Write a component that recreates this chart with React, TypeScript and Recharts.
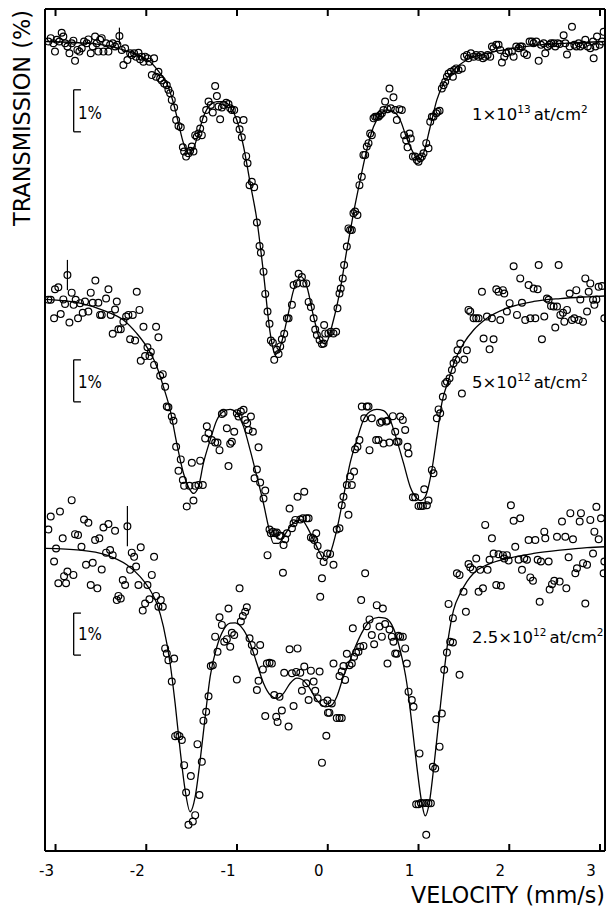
import React from 'react';
import { ComposedChart, Line, Scatter, XAxis, YAxis, ErrorBar, ReferenceLine } from 'recharts';

// ---- axis / layout data ----
const velocityTicks = [-3, -2, -1, 0, 1, 2, 3];
const velocityDomain: [number, number] = [-3.116, 3.055];
const displayDomain: [number, number] = [80.726, 100.774];
const spectrumOffsets = [0, -6, -12]; // vertical stacking offsets (%)
const scaleBarTops = [98.85, 98.42, 98.39]; // top of each 1% bar, transmission %
const doseMain = ['1×10', '5×10', '2.5×10'];
const doseExp = ['13', '12', '12'];

// ---- spectrum 1 (1×10^13 at/cm^2): [velocity mm/s, transmission %] ----
const spectrum1Points: [number, number][] = [
  [-3.079,100.00],[-3.053,100.08],[-3.024,99.96],[-3.006,99.76],[-2.987,100.04],[-2.958,100.00],[-2.932,100.21],[-2.914,100.12],[-2.895,99.96],[-2.869,99.88],[-2.847,99.72],[-2.822,99.96],[-2.803,100.02],[-2.785,99.54],[-2.759,99.80],[-2.737,99.76],[-2.711,99.84],[-2.686,100.00],[-2.656,99.96],[-2.638,100.05],[-2.612,99.72],[-2.590,99.88],[-2.564,100.12],[-2.546,99.96],[-2.528,99.76],[-2.509,100.04],[-2.491,100.08],[-2.472,99.76],[-2.443,99.96],[-2.417,99.76],[-2.399,99.92],[-2.370,99.96],[-2.344,99.88],[-2.318,99.92],
  [-2.270,99.80],[-2.252,99.44],[-2.233,99.84],[-2.208,99.56],[-2.178,99.72],[-2.160,99.68],[-2.134,99.72],[-2.112,99.64],[-2.086,99.73],[-2.068,99.58],[-2.050,99.64],[-2.031,99.52],[-2.013,99.64],[-1.987,99.60],[-1.965,99.52],[-1.939,99.20],[-1.914,99.60],[-1.892,99.16],[-1.866,99.28],[-1.847,99.12],[-1.829,99.07],[-1.803,99.00],[-1.774,98.96],[-1.756,98.85],[-1.737,98.77],[-1.719,98.61],[-1.693,98.43],[-1.671,98.13],[-1.645,97.99],[-1.620,97.96],[-1.597,97.48],[-1.583,97.38],[-1.561,97.26],[-1.535,97.34],[-1.517,97.40],[-1.498,97.50],[-1.480,97.38],[-1.461,97.77],[-1.443,97.73],[-1.425,97.81],[-1.406,97.93],[-1.388,97.77],[-1.370,98.15],[-1.340,98.37],[-1.314,98.57],[-1.289,98.49],[-1.267,98.31],[-1.241,98.94],[-1.222,98.70],[-1.204,98.45],[-1.186,98.15],[-1.167,98.43],[-1.149,98.49],[-1.119,98.54],[-1.094,98.51],[-1.075,98.41],[-1.057,98.37],[-1.031,98.37],[-1.002,98.13],[-0.972,97.91],[-0.947,97.72],[-0.928,98.13],[-0.899,97.27],[-0.884,97.10],[-0.862,96.58],[-0.837,96.66],[-0.811,96.53],[-0.781,95.69],[-0.752,95.13],
  [-0.737,94.97],[-0.708,94.52],[-0.689,93.99],[-0.664,93.57],[-0.642,93.28],[-0.627,92.88],[-0.605,92.83],[-0.590,92.42],[-0.561,92.66],[-0.542,92.56],[-0.524,92.74],[-0.506,92.91],[-0.480,93.04],[-0.450,93.41],[-0.432,93.41],[-0.395,93.73],[-0.377,94.20],[-0.340,94.24],[-0.321,94.47],[-0.285,94.39],[-0.267,94.24],[-0.237,94.24],[-0.211,93.80],[-0.186,93.68],[-0.156,93.41],[-0.138,93.14],[-0.120,93.01],[-0.090,92.89],[-0.064,92.80],[-0.046,92.81],[-0.028,93.05],
  [-0.040,93.25],[0.007,93.05],[0.033,93.09],[0.063,93.05],[0.092,93.09],[0.107,93.65],[0.129,94.00],[0.143,94.12],[0.165,94.36],[0.180,94.68],[0.210,95.12],[0.228,95.55],[0.246,95.51],[0.265,95.51],[0.283,95.91],[0.301,95.95],[0.327,95.87],[0.349,96.58],[0.375,96.78],[0.393,97.30],[0.412,97.30],[0.430,97.50],[0.449,97.58],[0.467,97.81],[0.485,97.77],[0.504,98.17],[0.522,98.21],[0.540,98.21],[0.559,98.21],[0.577,98.25],[0.596,98.29],[0.614,98.37],[0.632,98.57],[0.658,98.39],[0.680,98.88],[0.695,98.41],[0.724,98.67],[0.743,98.37],[0.761,98.13],[0.790,98.39],[0.816,98.37],[0.842,97.77],[0.864,97.65],[0.879,97.48],[0.901,97.81],[0.915,97.69],[0.938,97.26],[0.963,97.26],[0.982,97.18],[1.000,97.14],[1.018,97.22],[1.037,97.26],[1.055,97.34],[1.085,97.58],[1.110,97.46],[1.129,98.09],[1.147,98.21],[1.165,98.21],[1.195,98.29],[1.210,98.33],[1.232,98.35],[1.257,98.88],[1.276,98.96],[1.294,99.04],[1.313,99.16],[1.331,99.24],[1.357,99.28],[1.379,99.16],[1.393,99.32],[1.415,99.36],[1.441,99.32],[1.478,99.36],[1.504,99.64],[1.533,99.68],[1.551,99.60],[1.577,99.72],[1.607,99.64],[1.636,99.68],[1.662,99.64],[1.688,99.68],[1.710,99.60],[1.735,99.64],[1.761,99.68],[1.790,99.64],[1.809,99.88],[1.827,99.84],[1.857,99.92],[1.882,99.92],[1.901,99.80],[1.919,99.50],[1.945,99.64],[1.967,99.72],[1.993,99.76],[2.029,99.76],[2.048,99.64],[2.077,99.88],[2.103,99.84],[2.121,99.88],[2.140,99.88],[2.165,99.72],[2.195,99.68],[2.224,100.00],[2.250,100.00],[2.268,99.96],[2.298,100.00],[2.324,99.54],[2.349,99.92],[2.379,99.96],[2.397,99.72],[2.423,99.88],[2.445,99.92],[2.460,99.96],[2.489,99.96],[2.507,99.88],[2.533,99.96],[2.555,99.94],[2.599,100.15],[2.618,99.96],[2.636,99.69],[2.665,99.88],[2.691,100.35],[2.717,99.92],[2.739,99.88],[2.765,99.96],[2.783,99.88],[2.813,99.92],[2.838,100.04],[2.864,99.88],[2.893,99.84],[2.923,100.00],[2.930,99.60],[2.949,99.88],[2.967,100.12],[2.996,99.92],[3.022,100.00],[3.040,100.23],
];
const spectrum1Fit: [number, number][] = [
  [-3.108,100.00],[-2.546,99.94],[-2.252,99.80],[-2.105,99.68],[-1.958,99.52],[-1.847,99.24],[-1.774,99.00],[-1.700,98.53],[-1.645,98.05],[-1.590,97.58],[-1.535,97.34],[-1.480,97.46],[-1.425,97.81],[-1.370,98.21],[-1.296,98.49],[-1.222,98.57],[-1.149,98.57],[-1.075,98.45],[-1.002,98.13],[-0.928,97.50],[-0.855,96.63],[-0.781,95.75],[-0.708,94.48],[-0.634,93.05],[-0.579,92.54],[-0.524,92.73],[-0.450,93.37],[-0.377,94.08],[-0.296,94.40],[-0.230,94.16],[-0.156,93.45],[-0.083,92.89],[-0.028,92.80],[0.063,93.37],[0.136,94.08],[0.210,95.04],[0.283,95.91],[0.357,96.70],[0.430,97.42],[0.504,97.97],[0.577,98.25],[0.651,98.37],[0.724,98.33],[0.798,98.13],[0.871,97.69],[0.945,97.34],[1.000,97.18],[1.055,97.34],[1.129,97.97],[1.202,98.61],[1.276,99.00],[1.386,99.32],[1.533,99.56],[1.754,99.72],[2.048,99.84],[2.342,99.92],[2.636,99.96],[3.055,100.00],
];
const spectrum1Error: [number, number, number][] = [[-2.296, 100.13, 0.2]];

// ---- spectrum 2 (5×10^12 at/cm^2) ----
const spectrum2Points: [number, number][] = [
  [-3.079,99.85],[-3.053,99.85],[-3.016,99.41],[-3.006,100.10],[-2.969,100.15],[-2.943,99.51],[-2.914,99.86],[-2.895,99.75],[-2.847,99.31],[-2.822,100.02],[-2.801,99.73],[-2.778,99.85],[-2.752,99.41],[-2.730,99.77],[-2.700,99.54],[-2.675,99.81],[-2.638,99.57],[-2.612,100.02],[-2.590,99.78],[-2.561,100.31],[-2.528,99.78],[-2.509,99.49],[-2.491,99.49],[-2.443,99.88],[-2.417,100.10],[-2.392,99.49],[-2.370,99.04],[-2.344,99.62],[-2.325,99.81],[-2.307,99.15],[-2.281,99.15],[-2.252,99.33],[-2.222,99.45],[-2.197,99.49],[-2.178,98.91],[-2.149,99.49],[-2.123,98.88],[-2.105,100.04],[-2.075,99.61],[-2.061,98.40],[-2.031,99.21],[-2.013,98.51],[-1.987,98.72],[-1.965,98.51],[-1.950,98.61],[-1.914,98.30],[-1.892,99.21],[-1.866,98.96],[-1.847,98.04],[-1.818,98.08],[-1.792,97.78],[-1.774,97.31],[-1.756,97.29],[-1.719,97.07],[-1.700,96.97],[-1.671,96.35],[-1.645,95.78],[-1.620,96.05],[-1.597,95.56],[-1.583,95.42],[-1.554,94.93],[-1.524,95.42],[-1.498,95.97],[-1.480,95.07],[-1.461,95.42],[-1.425,95.44],[-1.406,96.02],[-1.377,95.44],[-1.351,96.55],[-1.333,96.84],[-1.314,96.67],[-1.278,96.51],[-1.241,96.45],[-1.215,96.45],[-1.193,96.27],[-1.167,97.13],[-1.149,97.16],[-1.112,96.79],[-1.094,95.89],[-1.075,96.42],[-1.057,96.47],[-1.031,96.71],[-1.002,97.15],[-0.983,97.07],[-0.958,97.19],[-0.928,97.23],[-0.910,96.99],[-0.888,96.91],[-0.873,96.75],[-0.847,97.07],[-0.825,96.71],[-0.807,95.60],[-0.781,95.81],[-0.763,96.34],[-0.745,95.50],[-0.708,95.12],[-0.689,95.31],[-0.664,93.77],[-0.642,94.38],[-0.627,94.29],[-0.605,94.33],[-0.579,94.29],[-0.561,94.31],[-0.532,94.23],[-0.517,94.23],[-0.494,93.35],[-0.487,94.01],[-0.469,94.15],[-0.450,94.29],[-0.421,94.88],[-0.395,94.41],[-0.377,94.53],[-0.358,94.61],[-0.333,95.16],[-0.303,94.62],[-0.274,94.65],[-0.259,95.28],[-0.233,94.65],[-0.211,94.65],[-0.186,94.19],[-0.164,94.17],[-0.149,94.13],[-0.127,94.29],[-0.112,93.99],[-0.083,93.77],[-0.083,92.78],[-0.064,93.22],[-0.046,93.61],
  [-0.004,93.81],[0.026,93.80],[0.063,93.54],[0.099,94.38],[0.129,94.41],[0.154,94.96],[0.173,95.16],[0.210,95.44],[0.228,94.73],[0.246,95.64],[0.265,95.44],[0.290,95.76],[0.301,96.29],[0.327,96.35],[0.349,96.51],[0.375,97.31],[0.401,97.03],[0.430,97.31],[0.449,97.31],[0.460,96.27],[0.485,97.03],[0.533,96.51],[0.559,96.51],[0.577,96.92],[0.596,96.95],[0.614,96.43],[0.643,96.95],[0.658,96.97],[0.680,96.45],[0.717,97.08],[0.743,96.71],[0.761,96.47],[0.779,96.47],[0.798,97.07],[0.827,96.99],[0.853,96.75],[0.879,96.35],[0.890,96.19],[0.938,95.15],[0.963,95.15],[1.000,94.94],[1.026,94.94],[1.048,94.94],[1.063,95.34],[1.092,94.96],[1.110,95.07],[1.147,95.80],[1.165,95.72],[1.202,97.03],[1.221,97.24],[1.239,97.15],[1.268,97.54],[1.294,97.86],[1.313,97.90],[1.342,97.98],[1.368,98.18],[1.386,98.34],[1.415,98.42],[1.430,98.65],[1.460,98.81],[1.478,97.62],[1.504,98.43],[1.533,98.65],[1.551,99.61],[1.570,99.57],[1.607,99.41],[1.636,99.41],[1.662,99.41],[1.699,100.04],[1.717,98.93],[1.754,99.45],[1.783,98.67],[1.809,99.41],[1.827,98.91],[1.857,100.10],[1.882,100.04],[1.901,99.37],[1.930,100.08],[1.945,100.00],[1.974,99.57],[2.004,99.77],[2.048,100.65],[2.085,99.49],[2.121,100.36],[2.140,99.78],[2.176,99.37],[2.213,100.20],[2.232,99.41],[2.268,100.12],[2.287,99.41],[2.313,100.10],[2.324,100.68],[2.360,98.91],[2.386,99.45],[2.415,99.88],[2.434,99.85],[2.460,99.70],[2.489,99.69],[2.507,99.19],[2.526,99.69],[2.544,100.68],[2.563,99.49],[2.592,99.54],[2.607,99.33],[2.636,99.61],[2.665,100.00],[2.691,99.37],[2.717,99.41],[2.739,100.08],[2.765,99.37],[2.783,99.86],[2.813,99.33],[2.838,100.36],[2.857,99.57],[2.875,100.04],[2.893,100.24],[2.923,99.85],[2.938,99.73],[2.960,99.86],[2.985,100.16],[3.022,100.18],[3.048,99.41],
];
const spectrum2Fit: [number, number][] = [
  [-3.108,99.86],[-2.730,99.77],[-2.436,99.57],[-2.252,99.37],[-2.105,99.05],[-1.995,98.73],[-1.884,98.26],[-1.811,97.78],[-1.737,97.23],[-1.664,96.43],[-1.590,95.72],[-1.517,95.32],[-1.480,95.24],[-1.425,95.40],[-1.370,95.96],[-1.296,96.51],[-1.222,96.99],[-1.149,97.19],[-1.075,97.24],[-1.002,97.15],[-0.928,96.83],[-0.855,96.27],[-0.781,95.64],[-0.708,95.00],[-0.653,94.45],[-0.598,94.05],[-0.542,94.05],[-0.487,94.21],[-0.414,94.45],[-0.340,94.59],[-0.285,94.61],[-0.230,94.45],[-0.156,94.13],[-0.083,93.81],[-0.029,93.64],[0.026,93.81],[0.099,94.37],[0.173,95.16],[0.246,95.96],[0.320,96.51],[0.393,96.99],[0.467,97.19],[0.540,97.24],[0.614,97.21],[0.688,96.99],[0.761,96.51],[0.835,95.96],[0.908,95.40],[0.982,95.12],[1.026,95.07],[1.074,95.16],[1.147,95.80],[1.202,96.59],[1.257,97.39],[1.331,97.94],[1.404,98.42],[1.496,98.81],[1.607,99.13],[1.754,99.41],[1.974,99.65],[2.268,99.81],[2.562,99.88],[2.857,99.92],[3.055,99.94],
];
const spectrum2Error: [number, number, number][] = [[-2.869, 100.44, 0.36]];

// ---- spectrum 3 (2.5×10^12 at/cm^2) ----
const spectrum3Points: [number, number][] = [
  [-3.079,100.38],[-3.053,100.69],[-3.016,99.62],[-2.994,99.93],[-2.969,99.10],[-2.951,100.81],[-2.921,100.17],[-2.906,99.27],[-2.884,99.10],[-2.869,99.38],[-2.822,101.08],[-2.803,99.30],[-2.785,100.27],[-2.752,100.25],[-2.714,99.97],[-2.686,100.62],[-2.664,99.54],[-2.638,100.54],[-2.612,99.06],[-2.590,99.59],[-2.564,100.13],[-2.539,98.98],[-2.517,100.17],[-2.491,99.43],[-2.472,100.43],[-2.443,99.83],[-2.417,100.51],[-2.399,99.89],[-2.370,99.77],[-2.344,100.35],[-2.325,98.70],[-2.307,98.80],[-2.281,98.74],[-2.259,99.18],[-2.233,99.06],[-2.178,99.42],[-2.160,99.83],[-2.134,99.73],[-2.112,99.50],[-2.086,99.06],[-2.061,99.96],[-2.039,98.45],[-2.013,98.62],[-1.987,99.06],[-1.965,98.72],[-1.939,99.30],[-1.914,99.73],[-1.892,98.80],[-1.866,98.54],[-1.840,98.70],[-1.818,98.54],[-1.792,97.55],[-1.774,97.43],[-1.756,97.27],[-1.719,96.76],[-1.693,97.31],[-1.682,95.46],[-1.656,95.49],[-1.634,95.46],[-1.608,95.37],[-1.583,94.77],[-1.561,94.12],[-1.535,93.35],[-1.509,94.51],[-1.487,93.43],[-1.461,93.58],[-1.436,95.27],[-1.414,94.06],[-1.388,94.85],[-1.370,95.83],[-1.340,96.04],[-1.314,96.41],[-1.289,97.13],[-1.267,97.15],[-1.241,97.83],[-1.215,97.47],[-1.193,98.29],[-1.167,98.11],[-1.141,97.71],[-1.112,97.77],[-1.094,98.50],[-1.075,97.59],[-1.057,97.92],[-1.031,97.87],[-1.002,96.81],[-0.972,98.98],[-0.958,98.19],[-0.936,98.32],[-0.910,98.42],[-0.892,98.53],[-0.862,97.79],[-0.837,97.63],[-0.811,97.47],[-0.781,96.56],[-0.763,96.78],[-0.745,97.63],[-0.715,97.05],[-0.689,95.94],[-0.671,97.19],[-0.642,97.21],[-0.616,97.19],[-0.590,96.44],[-0.568,95.92],[-0.553,95.80],[-0.532,96.40],[-0.506,96.07],[-0.480,96.97],[-0.432,95.69],[-0.421,97.53],[-0.395,96.96],[-0.377,96.18],[-0.348,96.99],[-0.333,97.55],[-0.303,96.97],[-0.285,96.54],[-0.259,97.12],[-0.237,96.72],[-0.211,96.32],[-0.186,97.02],[-0.156,96.76],[-0.138,96.54],[-0.112,96.36],[-0.090,97.00],[-0.064,94.83],[-0.046,96.25],[-0.016,95.47],[0.002,96.02],
  [-0.004,96.31],[0.018,96.02],[0.044,96.24],[0.063,97.19],[0.099,95.89],[0.129,95.89],[0.154,95.89],[0.129,96.89],[0.154,97.00],[0.173,97.13],[0.191,96.80],[0.210,97.42],[0.239,97.15],[0.265,97.19],[0.276,98.03],[0.290,97.35],[0.312,97.45],[0.338,97.47],[0.357,97.59],[0.368,98.70],[0.393,97.61],[0.412,99.34],[0.430,98.08],[0.460,98.24],[0.485,97.87],[0.511,97.65],[0.540,98.58],[0.570,98.07],[0.596,97.83],[0.607,98.50],[0.632,98.13],[0.658,97.19],[0.680,98.00],[0.706,97.83],[0.724,97.71],[0.743,97.43],[0.761,97.42],[0.779,97.85],[0.798,97.83],[0.827,97.83],[0.853,97.55],[0.871,97.19],[0.890,96.52],[0.926,96.32],[0.945,96.16],[1.011,95.05],[0.974,93.84],[1.000,93.84],[1.026,93.87],[1.048,93.86],[1.085,93.87],[1.110,93.86],[1.136,93.86],[1.085,93.11],[1.158,94.73],[1.184,94.69],[1.195,95.86],[1.232,95.21],[1.257,96.00],[1.283,97.04],[1.313,97.45],[1.349,97.71],[1.379,97.69],[1.331,98.61],[1.452,96.92],[1.379,98.27],[1.423,99.34],[1.452,99.30],[1.496,98.90],[1.522,98.42],[1.551,99.56],[1.570,99.48],[1.599,99.43],[1.636,99.69],[1.662,98.90],[1.680,99.42],[1.710,98.98],[1.735,100.49],[1.761,99.42],[1.783,99.66],[1.809,100.17],[1.827,99.81],[1.857,99.06],[1.882,99.79],[1.908,99.04],[1.930,99.77],[1.945,99.69],[1.974,99.77],[1.993,99.64],[2.018,100.96],[2.048,100.59],[2.066,99.97],[2.103,99.66],[2.121,100.65],[2.140,99.42],[2.165,99.69],[2.195,99.66],[2.213,100.13],[2.232,99.24],[2.261,99.16],[2.287,100.13],[2.313,99.66],[2.335,98.66],[2.349,99.62],[2.386,100.33],[2.397,100.17],[2.434,99.62],[2.445,98.95],[2.471,99.08],[2.496,99.16],[2.526,100.21],[2.555,99.14],[2.581,100.57],[2.618,100.21],[2.629,98.98],[2.654,99.72],[2.673,100.77],[2.702,100.15],[2.728,99.34],[2.746,99.46],[2.776,100.57],[2.790,100.77],[2.813,99.58],[2.838,98.62],[2.857,99.54],[2.893,100.61],[2.923,99.81],[2.938,100.33],[2.960,100.92],[2.985,100.15],[3.011,100.65],[3.040,99.34],[3.048,99.62],
];
const spectrum3Fit: [number, number][] = [
  [-3.108,99.93],[-2.730,99.89],[-2.436,99.77],[-2.215,99.54],[-2.068,99.26],[-1.958,98.94],[-1.884,98.62],[-1.811,98.07],[-1.737,97.19],[-1.682,96.24],[-1.627,95.13],[-1.572,94.18],[-1.517,93.66],[-1.461,94.02],[-1.406,94.89],[-1.351,95.92],[-1.296,96.88],[-1.222,97.59],[-1.149,97.99],[-1.075,98.15],[-1.020,98.16],[-0.928,97.99],[-0.855,97.67],[-0.781,97.19],[-0.708,96.72],[-0.634,96.44],[-0.561,96.36],[-0.487,96.48],[-0.414,96.72],[-0.340,96.84],[-0.285,96.81],[-0.211,96.64],[-0.120,96.32],[-0.028,96.16],[0.044,96.20],[0.099,96.40],[0.173,96.88],[0.246,97.27],[0.320,97.67],[0.393,97.99],[0.467,98.21],[0.559,98.29],[0.632,98.27],[0.706,98.11],[0.798,97.51],[0.871,96.72],[0.926,95.77],[0.982,94.73],[1.037,93.86],[1.074,93.56],[1.121,93.90],[1.165,94.66],[1.221,95.77],[1.276,96.88],[1.331,97.83],[1.386,98.46],[1.460,98.86],[1.533,99.14],[1.607,99.34],[1.754,99.54],[1.974,99.69],[2.268,99.81],[2.563,99.89],[2.857,99.95],[3.055,99.97],
];
const spectrum3Error: [number, number, number][] = [[-2.208, 100.46, 0.48]];

const allPoints = [spectrum1Points, spectrum2Points, spectrum3Points];
const allFits = [spectrum1Fit, spectrum2Fit, spectrum3Fit];
const allErrors = [spectrum1Error, spectrum2Error, spectrum3Error];

const toRows = (pts: [number, number][], off: number) => pts.map(([x, t]) => ({ x, y: t + off }));
const toErrRows = (pts: [number, number, number][], off: number) => pts.map(([x, t, e]) => ({ x, y: t + off, err: e }));

const FONT = '"DejaVu Sans", sans-serif';

const Ring = (p: any) => (
  <circle cx={p.cx} cy={p.cy} r={3.4} fill="none" stroke="#000" strokeWidth={1.2} />
);

const BottomTick = (p: any) => (
  <g>
    <line x1={p.x} y1={p.y} x2={p.x} y2={p.y - 7} stroke="#000" strokeWidth={2} />
    <text x={p.x - 9} y={p.y + 25} textAnchor="middle" fontSize={15} fontFamily={FONT} fill="#000">
      {p.payload.value}
    </text>
  </g>
);
const TopTick = (p: any) => (
  <line x1={p.x} y1={p.y} x2={p.x} y2={p.y + 7} stroke="#000" strokeWidth={2} />
);

const frameLine = { stroke: '#000', strokeWidth: 2 };

export default function App() {
  const barX = -2.8;
  const barTickX = -2.72;
  const doseBaselines = [119.5, 388, 643];
  const pctBaselines = [118.5, 388, 640];
  return (
    <div style={{ position: 'absolute', left: 0, top: 0, width: 611, height: 913, background: '#fff' }}>
      <ComposedChart width={611} height={913} margin={{ top: 8, right: 1, bottom: 32, left: 35 }}>
        <XAxis dataKey="x" type="number" domain={velocityDomain} ticks={velocityTicks} interval={0}
          allowDataOverflow height={30} tickSize={0} tickMargin={0} tickLine={false}
          axisLine={frameLine} tick={(p: any) => <BottomTick {...p} />} />
        <XAxis xAxisId="top" orientation="top" dataKey="x" type="number" domain={velocityDomain}
          ticks={velocityTicks} interval={0} allowDataOverflow height={1} tickSize={0} tickMargin={0}
          tickLine={false} axisLine={frameLine} tick={(p: any) => <TopTick {...p} />} />
        <YAxis dataKey="y" type="number" domain={displayDomain} allowDataOverflow width={10}
          tick={false} tickLine={false} axisLine={frameLine} />
        <YAxis yAxisId="right" orientation="right" type="number" domain={displayDomain} allowDataOverflow
          width={5} tick={false} tickLine={false} axisLine={frameLine} />
        {allFits.map((fit, i) => (
          <Line key={'fit' + i} data={toRows(fit, spectrumOffsets[i])} dataKey="y" type="monotone"
            dot={false} stroke="#000" strokeWidth={1.3} isAnimationActive={false} />
        ))}
        {allPoints.map((pts, i) => (
          <Scatter key={'pts' + i} data={toRows(pts, spectrumOffsets[i])} dataKey="y" shape={Ring}
            isAnimationActive={false} />
        ))}
        {allErrors.map((pts, i) => (
          <Scatter key={'err' + i} data={toErrRows(pts, spectrumOffsets[i])} dataKey="y" shape={Ring}
            isAnimationActive={false}>
            <ErrorBar dataKey="err" direction="y" width={0} stroke="#000" strokeWidth={1.2} />
          </Scatter>
        ))}
        {scaleBarTops.map((top, i) => {
          const t = top + spectrumOffsets[i];
          return [
            <ReferenceLine key={'bv' + i} segment={[{ x: barX, y: t }, { x: barX, y: t - 1 }]}
              stroke="#000" strokeWidth={1.3} ifOverflow="visible" />,
            <ReferenceLine key={'bt' + i} segment={[{ x: barX, y: t }, { x: barTickX, y: t }]}
              stroke="#000" strokeWidth={1.3} ifOverflow="visible" />,
            <ReferenceLine key={'bb' + i} segment={[{ x: barX, y: t - 1 }, { x: barTickX, y: t - 1 }]}
              stroke="#000" strokeWidth={1.3} ifOverflow="visible" />,
          ];
        })}
      </ComposedChart>
      <svg width={611} height={913} style={{ position: 'absolute', left: 0, top: 0, pointerEvents: 'none' }}>
        <text transform="translate(30,118) rotate(-90)" textAnchor="middle" fontSize={22.5} fontFamily={FONT}
          textLength={216} lengthAdjust="spacingAndGlyphs" fill="#000">TRANSMISSION (%)</text>
        <text x={411} y={903} fontSize={23} fontFamily={FONT} textLength={194}
          lengthAdjust="spacingAndGlyphs" fill="#000">VELOCITY (mm/s)</text>
        {pctBaselines.map((b, i) => (
          <text key={'pct' + i} x={78} y={b} fontSize={18} fontFamily={FONT} textLength={24}
            lengthAdjust="spacingAndGlyphs" fill="#000">1%</text>
        ))}
        {doseMain.map((m, i) => (
          <text key={'dose' + i} x={472} y={doseBaselines[i]} fontSize={16.5} fontFamily={FONT} fill="#000">
            {m}
            <tspan fontSize={10.5} dy={-7}>{doseExp[i]}</tspan>
            <tspan dy={7} dx={3}>at/cm</tspan>
            <tspan fontSize={10.5} dy={-7}>2</tspan>
          </text>
        ))}
      </svg>
    </div>
  );
}
